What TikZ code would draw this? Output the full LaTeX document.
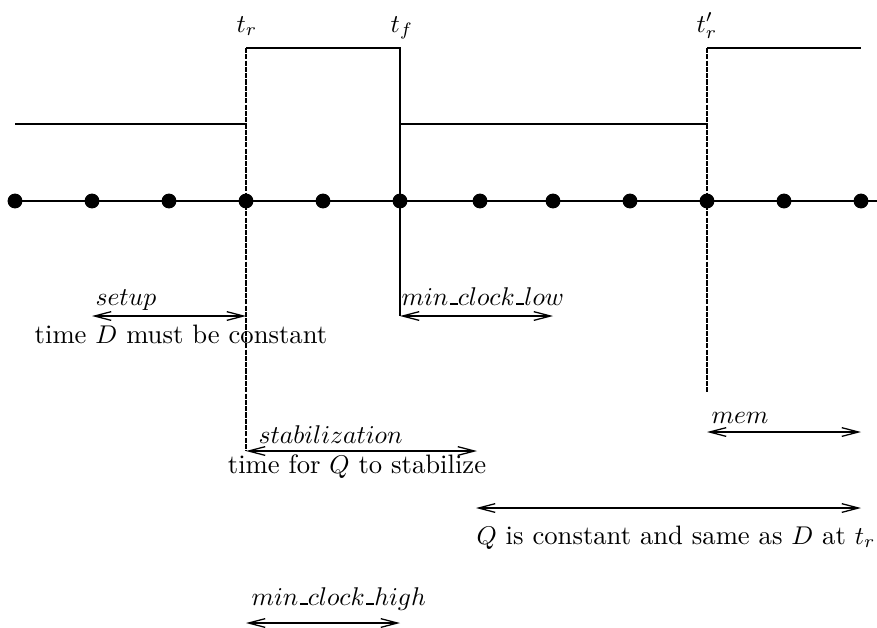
\documentclass[tikz,border=0pt]{standalone}
\usepackage{tikz}
\usetikzlibrary{arrows.meta}
\newcommand{\ulbar}{\mathord{\kern.06em\vbox{\hrule width.3em height 0.9pt}}}
\tikzset{
signal/.style={
  line width=0.8pt
},
timeaxis/.style={
  line width=0.8pt
},
tickdot/.style={
  circle,
  fill,
  inner sep=0pt,
  minimum size=5.8pt
},
edgedashed/.style={
  line width=0.6pt,
  dash pattern=on 2pt off 0.45pt
},
edgesolid/.style={
  line width=0.6pt
},
span/.style={
  {Straight Barb[length=6.5pt,width=3.4pt]}-{Straight Barb[length=6.5pt,width=3.4pt]},
  line width=0.5pt
},
spanlabel/.style={
  anchor=base west,
  inner sep=0pt,
  font=\fontsize{10.4}{12}\selectfont
},
notelabel/.style={
  anchor=base,
  inner sep=0pt,
  font=\fontsize{10.4}{12}\selectfont
}
}

\begin{document}
\begin{tikzpicture}[x=0.39pt, y=-0.39pt]
  \useasboundingbox (0,0) rectangle (877,627);

  % time axis with sample points
  \coordinate (axend) at (877,201);
  \foreach \x [count=\i] in {15,92,169,246,323,400,480,553,630,707,784,861}
    \coordinate (d\i) at (\x,201);
  \draw[timeaxis] (d1) -- (axend);
  \foreach \i in {1,...,12}
    \node[tickdot] (dot\i) at (d\i) {};

  % clock
  \draw[signal] (15,124) -- (246,124);
  \draw[signal] (246,48) -- (400,48) -- (400,124) -- (707,124);
  \draw[signal] (707,48) -- (861,48);

  % edge labels
  \node[notelabel] (tr) at (247,32) {$t_r$};
  \node[notelabel] (tf) at (402,32) {$t_f$};
  \node[notelabel] (trb) at (707,32) {$t'_r$};

  % edge markers
  \coordinate (trtop) at (246,48);
  \coordinate (trbot) at (246,451);
  \coordinate (tftop) at (400,48);
  \coordinate (tfbot) at (400,316);
  \coordinate (trbtop) at (707,48);
  \coordinate (trbbot) at (707,393);
  \draw[edgedashed] (trtop) -- (trbot);
  \draw[edgesolid] (tftop) -- (tfbot);
  \draw[edgedashed] (trbtop) -- (trbbot);

  % setup
  \coordinate (setupl) at (92,316);
  \coordinate (setupr) at (246,316);
  \draw[span] (setupl) -- (setupr);
  \node[spanlabel] (setup) at (95,305) {$setup$};
  \node[notelabel] (setupnote) at (181,343) {time $D$ must be constant};

  % min clock low
  \coordinate (lowl) at (400,316);
  \coordinate (lowr) at (553,316);
  \draw[span] (lowl) -- (lowr);
  \node[spanlabel] (low) at (401,305) {$min\ulbar clock\ulbar low$};

  % stabilization
  \coordinate (stabl) at (246,451);
  \coordinate (stabr) at (477,451);
  \draw[span] (stabl) -- (stabr);
  \node[spanlabel] (stab) at (258,443) {$stabilization$};
  \node[notelabel] (stabnote) at (357,473) {time for $Q$ to stabilize};

  % mem
  \coordinate (meml) at (707,432);
  \coordinate (memr) at (861,432);
  \draw[span] (meml) -- (memr);
  \node[spanlabel] (mem) at (711,423) {$mem$};

  % Q constant
  \coordinate (qconstl) at (476,508);
  \coordinate (qconstr) at (861,508);
  \draw[span] (qconstl) -- (qconstr);
  \node[notelabel] (qconst) at (676,544) {$Q$ is constant and same as $D$ at $t_r$};

  % min clock high
  \coordinate (highl) at (246,623);
  \coordinate (highr) at (400,623);
  \draw[span] (highl) -- (highr);
  \node[spanlabel] (high) at (251,605) {$min\ulbar clock\ulbar high$};
\end{tikzpicture}
\end{document}
